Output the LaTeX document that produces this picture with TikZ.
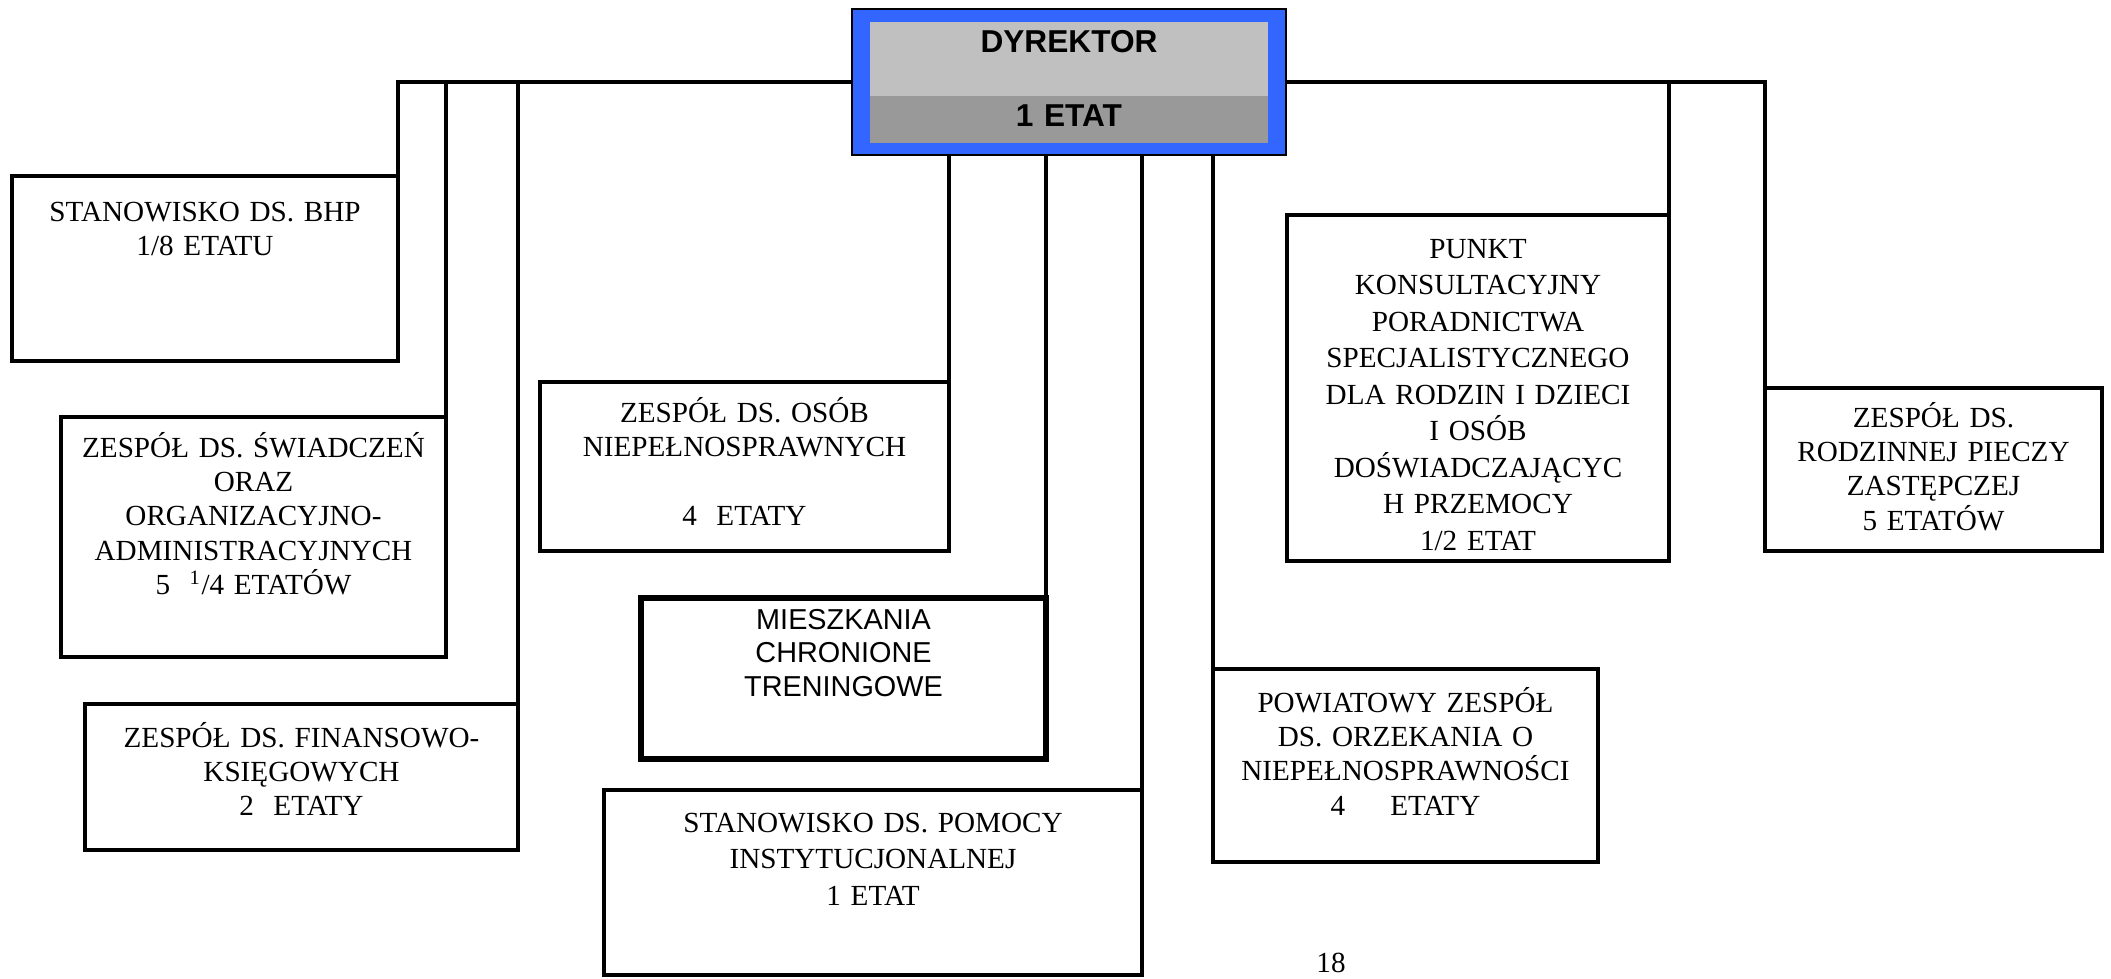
\documentclass[tikz,border=0pt]{standalone}
\usepackage{fontspec}
\setmainfont{Liberation Serif}
\setsansfont{Liberation Sans}
\usepackage{tikz}
\usetikzlibrary{positioning}
\definecolor{dyrblue}{HTML}{3366FF}
\definecolor{dyrlight}{HTML}{C0C0C0}
\definecolor{dyrdark}{HTML}{999999}
\newcommand{\boxfont}{\fontsize{8.3}{9.8}\selectfont}
\newcommand{\wideboxfont}{\fontsize{8.3}{10.4}\selectfont}

\begin{document}
\begin{tikzpicture}[
  x=1mm, y=-1mm,
  unit/.style={draw, line width=0.33mm, anchor=north west, align=center, inner sep=0pt, outer sep=0pt, font=\boxfont},
  flat/.style={unit, line width=0.6mm, font=\sffamily\fontsize{8.2}{9.6}\selectfont},
  dyrframe/.style={draw, line width=0.25mm, fill=dyrblue, anchor=north west, inner sep=0pt, outer sep=0pt},
  dyrpart/.style={align=center, inner sep=0pt, outer sep=0pt, text width=39.8mm, font=\sffamily\bfseries\fontsize{9}{10.8}\selectfont},
  link/.style={line width=0.32mm},
]
  \useasboundingbox (0,0) rectangle (211.1,97.8);

  \node[dyrframe, minimum width=43.4mm, minimum height=14.6mm] (dyr) at (85.2,0.9) {};
  \node[dyrpart, fill=dyrlight, text height=3mm, text depth=4.4mm, below=1.3mm of dyr.north] (dyrname) {DYREKTOR};
  \node[dyrpart, fill=dyrdark, text height=3mm, text depth=1.7mm, below=0pt of dyrname] (dyretat) {1 ETAT};

  \node[unit, text width=38.6mm, text height=4.5mm, text depth=14mm] (bhp) at (1.2,17.6)
    {STANOWISKO DS. BHP\\1/8 ETATU};
  \node[unit, text width=38.5mm, text height=4mm, text depth=20mm] (swi) at (6.1,41.7)
    {ZESPÓŁ DS. ŚWIADCZEŃ\\ORAZ\\ORGANIZACYJNO-\\ADMINISTRACYJNYCH\\5~~\textsuperscript{1}/4 ETATÓW};
  \node[unit, text width=43.3mm, text height=4.3mm, text depth=10.3mm] (fin) at (8.5,70.4)
    {ZESPÓŁ DS. FINANSOWO-\\KSIĘGOWYCH\\2~~ETATY};

  \node[unit, text width=40.9mm, text height=4mm, text depth=12.9mm] (osob) at (54,38.2)
    {ZESPÓŁ DS. OSÓB\\NIEPEŁNOSPRAWNYCH\\[9.8pt]4~~ETATY};
  \node[flat, text width=40.5mm, text height=3.1mm, text depth=13mm] (mieszk) at (64.1,59.8)
    {MIESZKANIA\\CHRONIONE\\TRENINGOWE};
  \node[unit, font=\wideboxfont, text width=53.8mm, text height=4.2mm, text depth=14.3mm] (pomoc) at (60.4,79)
    {STANOWISKO DS. POMOCY\\INSTYTUCJONALNEJ\\1 ETAT};
  \node[unit, text width=38.5mm, text height=4.3mm, text depth=15mm] (powiat) at (121.3,66.9)
    {POWIATOWY ZESPÓŁ\\DS. ORZEKANIA O\\NIEPEŁNOSPRAWNOŚCI\\4\hspace{4.5mm}ETATY};

  \node[unit, font=\wideboxfont, text width=38.2mm, text height=4.3mm, text depth=30.3mm] (punkt) at (128.7,21.5)
    {PUNKT\\KONSULTACYJNY\\PORADNICTWA\\SPECJALISTYCZNEGO\\DLA RODZIN I DZIECI\\I OSÓB\\DOŚWIADCZAJĄCYC\\H PRZEMOCY\\1/2 ETAT};
  \node[unit, text width=33.7mm, text height=3.9mm, text depth=12.4mm] (rodz) at (176.5,38.8)
    {ZESPÓŁ DS.\\RODZINNEJ PIECZY\\ZASTĘPCZEJ\\5 ETATÓW};

  \node[font=\boxfont, inner sep=0pt] (pnum) at (133.1,96.3) {18};

  \draw[link] (dyr.west) -| (bhp.north east);
  \draw[link] (dyr.west -| swi.north east) -- (swi.north east);
  \draw[link] (dyr.west -| fin.north east) -- (fin.north east);

  \draw[link] (dyr.south -| osob.north east) -- (osob.north east);
  \draw[link] (dyr.south -| mieszk.north east) -- (mieszk.north east);
  \draw[link] (dyr.south -| pomoc.north east) -- (pomoc.north east);
  \draw[link] (dyr.south -| powiat.north west) -- (powiat.north west);

  \draw[link] (dyr.east) -| (rodz.north west);
  \draw[link] (dyr.east -| punkt.north east) -- (punkt.north east);
\end{tikzpicture}
\end{document}
